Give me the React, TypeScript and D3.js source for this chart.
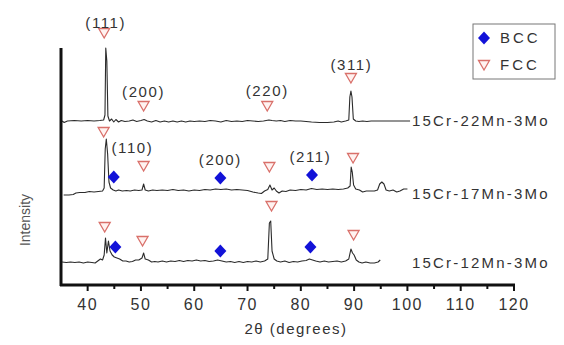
import React from "react";
import * as d3 from "d3";

// 2θ axis
const angleDomain: [number, number] = [35, 120];
const majorTicks = [40, 50, 60, 70, 80, 90, 100, 110, 120];
const minorTicks = [45, 55, 65, 75, 85, 95, 105, 115];

// samples, stacked with a vertical offset (intensity units)
const sampleNames = ["15Cr-22Mn-3Mo", "15Cr-17Mn-3Mo", "15Cr-12Mn-3Mo"];
const sampleOffsets = [164, 91, 22];

// diffraction patterns: [2θ, intensity above baseline]
const pattern22Mn: [number, number][] = [
  [35.2, 0], [35.6, -1.5], [36.2, 0], [37.5, 0.5], [38.8, 0], [40, 0.5], [41.2, 0], [42.3, 0.5],
  [43.0, 1], [43.25, 6], [43.4, 73], [43.6, 60], [43.8, 5], [44.1, 0], [44.5, 2], [44.9, -1],
  [45.3, 1.5], [45.8, -1], [46.3, 0.5], [47, -0.5], [47.8, 0], [48.5, 1], [49.2, -0.5], [50, 0.5],
  [50.6, 1.5], [51.2, 0], [52, -1], [52.8, 0.5], [53.6, -1], [54.4, 0], [55.2, -1], [56, 0],
  [56.8, -1], [57.6, 0], [58.4, -1], [59.2, 0], [60, -0.5], [61, 0], [62, -0.5], [63, 0.5],
  [64, 0], [65, -1], [66, 0.5], [67, -0.5], [68, 0], [69, -0.5], [70, 0.5], [71, 0], [72, -0.5],
  [73, 0], [74, 1], [74.6, 0.5], [75.4, 0], [76.2, 0.5], [77, -0.5], [78, 0.5], [79, 0], [80, 0],
  [81, -0.5], [82, -1], [83.5, -1.5], [85, -1.5], [86.2, -1], [87, 0], [87.6, -1], [88.4, 0],
  [89.0, 1], [89.2, 24], [89.4, 30], [89.6, 24], [89.85, 2], [90.3, 0], [90.9, -0.5], [91.6, 0],
  [92.4, -0.5], [93.2, 0], [94, 0], [96, 0], [98, 0], [100.5, 0],
];

const pattern17Mn: [number, number][] = [
  [35.5, -1], [36.5, -1], [37.3, -0.5], [37.8, 1], [38.5, 1.5], [39.5, 1.5], [40.3, 2.5], [41.2, 2],
  [42, 2.5], [42.8, 3], [43.1, 6], [43.3, 45], [43.5, 55], [43.75, 40], [44.0, 12], [44.3, 6],
  [44.8, 4], [45.3, 3], [45.8, 4], [46.5, 3], [47.3, 3.5], [48, 3], [48.8, 4], [49.6, 3.5],
  [50.2, 4], [50.5, 10], [50.8, 4], [51.4, 3], [52.2, 4], [53, 3.5], [54, 4], [55, 3.5], [56, 4.5],
  [57, 3.5], [58, 4], [59, 3], [60, 4], [61, 3.5], [62, 4.5], [63, 4], [64, 5], [65, 4.5], [66, 5],
  [67, 4], [68, 4.5], [69, 4], [70, 3.5], [71, 2], [72, 1], [72.6, 0.5], [73.2, 3], [73.8, 4.5],
  [74.2, 9], [74.6, 4], [75, 6], [75.4, 3], [75.9, 1], [76.5, 3], [77.2, 2.5], [78, 4], [79, 3.5],
  [80, 4.5], [81, 4], [82, 5.5], [83, 4.5], [84, 5], [85, 4.5], [86, 5], [87, 4.5], [88, 5],
  [88.8, 6], [89.25, 8], [89.45, 27], [89.65, 22], [89.9, 9], [90.3, 5], [91, 4], [91.6, 2], [92.3, 3],
  [93, 3], [93.8, 3], [94.4, 4], [94.8, 10], [95.2, 12], [95.6, 10], [96, 4], [96.6, 3], [97.3, 4],
  [98, 2], [98.6, 3], [99.3, 5], [100, 5],
];

const pattern12Mn: [number, number][] = [
  [35.2, 1], [36, 0.5], [36.8, 1], [37.6, 0.5], [38.4, 1], [39.2, 0], [40, 1], [40.8, 0.5],
  [41.4, 0], [41.9, 2], [42.4, 4], [42.8, 3], [43.1, 8], [43.35, 25], [43.6, 10], [43.9, 22],
  [44.2, 12], [44.6, 8], [45, 6], [45.5, 5], [46, 4], [46.6, 2], [47.2, 2], [47.8, 1], [48.4, 1.5],
  [49, 3], [49.6, 3], [50.2, 5], [50.5, 10], [50.8, 4], [51.4, 3], [52, 1], [52.6, 1.5], [53.2, 1],
  [54, 2], [54.8, 1], [55.6, 2], [56.4, 1.5], [57.2, 2.5], [58, 1.5], [58.8, 2.5], [59.6, 2],
  [60.4, 3], [61.2, 2], [62, 2.5], [62.8, 1.5], [63.6, 2], [64.4, 3], [65.2, 2], [66, 1], [66.8, 1.5],
  [67.6, 0.5], [68.4, 1.5], [69.2, 0.5], [70, 1.5], [70.8, 1], [71.6, 2], [72.4, 1], [73.2, 2],
  [73.8, 4], [74.1, 40], [74.35, 42], [74.6, 12], [75, 4], [75.5, 2], [76.2, 1], [77, 2], [77.8, 0.5],
  [78.6, 1.5], [79.4, 1], [80.2, 2], [81, 2.5], [81.6, 4], [82.2, 3], [82.8, 2], [83.6, 1], [84.4, 2],
  [85.2, 1], [86, 1.5], [86.8, 2], [87.6, 1], [88.4, 2], [89.0, 4], [89.4, 14], [89.7, 10], [90.0, 8],
  [90.4, 3], [90.9, 1], [91.5, 0], [92.2, 1], [93, 0], [93.8, 0], [94.5, 1], [94.9, 3],
];

const patterns = [pattern22Mn, pattern17Mn, pattern12Mn];

// phase markers: [sample index, 2θ, height above that sample's baseline]
const fccMarks: [number, number, number][] = [
  [0, 43.1, 88], [0, 50.5, 15], [0, 73.7, 15], [0, 89.4, 43],
  [1, 43.0, 62], [1, 50.5, 28], [1, 74.1, 27], [1, 89.8, 36],
  [2, 43.2, 36], [2, 50.3, 22], [2, 74.5, 57], [2, 89.9, 28],
];
const bccMarks: [number, number, number][] = [
  [1, 44.9, 17], [1, 64.9, 16], [1, 82.1, 19],
  [2, 45.2, 16], [2, 64.9, 12], [2, 81.8, 16],
];

// Miller index labels: [sample index, 2θ, height, text]
const hklLabels: [number, number, number, string][] = [
  [0, 43.4, 98, "(111)"], [0, 50.5, 29, "(200)"], [0, 73.7, 30, "(220)"], [0, 89.5, 56, "(311)"],
  [1, 48.4, 46, "(110)"], [1, 64.9, 34, "(200)"], [1, 81.8, 37, "(211)"],
];

const legendItems = ["BCC", "FCC"];

const W = 564;
const H = 345;
const axisY = 285;
const axisTop = 48;
const left = 61;
const right = 514;

const x = d3.scaleLinear().domain(angleDomain).range([left, right]);
const y = d3.scaleLinear().domain([0, axisY - axisTop]).range([axisY, axisTop]);

const traceColor = "#2b2b2b";
const textColor = "#333";
const fccColor = "#d9706a";
const bccColor = "#1212d8";

const trianglePath = "M-5.5,-4.5L5.5,-4.5L0,5Z";
const diamondPath = "M0,-6.5L6,0L0,6.5L-6,0Z";

const font = "Arial, 'Liberation Sans', sans-serif";

export default function App() {
  const line = d3
    .line<[number, number]>()
    .x((d) => x(d[0]))
    .y((d) => d[1]);

  return (
    <svg
      width={W}
      height={H}
      style={{ position: "absolute", left: 0, top: 0, background: "#fff" }}
      fontFamily={font}
    >
      {/* traces */}
      {patterns.map((p, i) => (
        <path
          key={sampleNames[i]}
          d={line(p.map(([a, v]) => [a, y(v + sampleOffsets[i])]) as [number, number][]) || ""}
          fill="none"
          stroke={traceColor}
          strokeWidth={1.1}
          strokeLinejoin="round"
        />
      ))}

      {/* sample names */}
      {sampleNames.map((n, i) => (
        <text
          key={n}
          x={412}
          y={y(sampleOffsets[i])}
          dy="0.35em"
          fontSize={15}
          letterSpacing={2.2}
          fill={textColor}
        >
          {n}
        </text>
      ))}

      {/* FCC markers */}
      {fccMarks.map(([s, a, h], k) => (
        <path
          key={"f" + k}
          d={trianglePath}
          transform={`translate(${x(a)},${y(h + sampleOffsets[s])})`}
          fill="#fff2f0"
          stroke={fccColor}
          strokeWidth={1.3}
        />
      ))}

      {/* BCC markers */}
      {bccMarks.map(([s, a, h], k) => (
        <path
          key={"b" + k}
          d={diamondPath}
          transform={`translate(${x(a)},${y(h + sampleOffsets[s])})`}
          fill={bccColor}
        />
      ))}

      {/* hkl labels */}
      {hklLabels.map(([s, a, h, t], k) => (
        <text
          key={"l" + k}
          x={x(a)}
          y={y(h + sampleOffsets[s])}
          dy="0.35em"
          textAnchor="middle"
          fontSize={15}
          letterSpacing={1.6}
          fill={textColor}
        >
          {t}
        </text>
      ))}

      {/* axes */}
      <line x1={left} x2={left} y1={axisTop} y2={axisY + 1} stroke="#111" strokeWidth={3} />
      <line x1={left - 1} x2={right + 1} y1={axisY} y2={axisY} stroke="#111" strokeWidth={3} />
      {majorTicks.map((t) => (
        <g key={"t" + t}>
          <line x1={x(t)} x2={x(t)} y1={axisY} y2={axisY + 6} stroke="#111" strokeWidth={2} />
          <text
            x={x(t)}
            y={304}
            dy="0.35em"
            textAnchor="middle"
            fontSize={16}
            letterSpacing={1.5}
            fill={textColor}
          >
            {t}
          </text>
        </g>
      ))}
      {minorTicks.map((t) => (
        <line key={"m" + t} x1={x(t)} x2={x(t)} y1={axisY} y2={axisY + 4} stroke="#111" strokeWidth={2} />
      ))}

      <text x={296} y={329} dy="0.35em" textAnchor="middle" fontSize={15} letterSpacing={1.5} fill={textColor}>
        2θ (degrees)
      </text>
      <text
        transform="translate(25,220) rotate(-90)"
        dy="0.35em"
        textAnchor="middle"
        fontSize={14}
        fill="#555"
      >
        Intensity
      </text>

      {/* legend */}
      <g>
        <rect x={473} y={24} width={82} height={55} fill="#fff" stroke="#777" strokeWidth={1} />
        <path d={diamondPath} transform="translate(484,38)" fill={bccColor} />
        <path d={trianglePath} transform="translate(484,65)" fill="#fff2f0" stroke={fccColor} strokeWidth={1.3} />
        {legendItems.map((t, i) => (
          <text
            key={t}
            x={500}
            y={i === 0 ? 38 : 65}
            dy="0.35em"
            fontSize={15}
            letterSpacing={3}
            fill={textColor}
          >
            {t}
          </text>
        ))}
      </g>
    </svg>
  );
}
